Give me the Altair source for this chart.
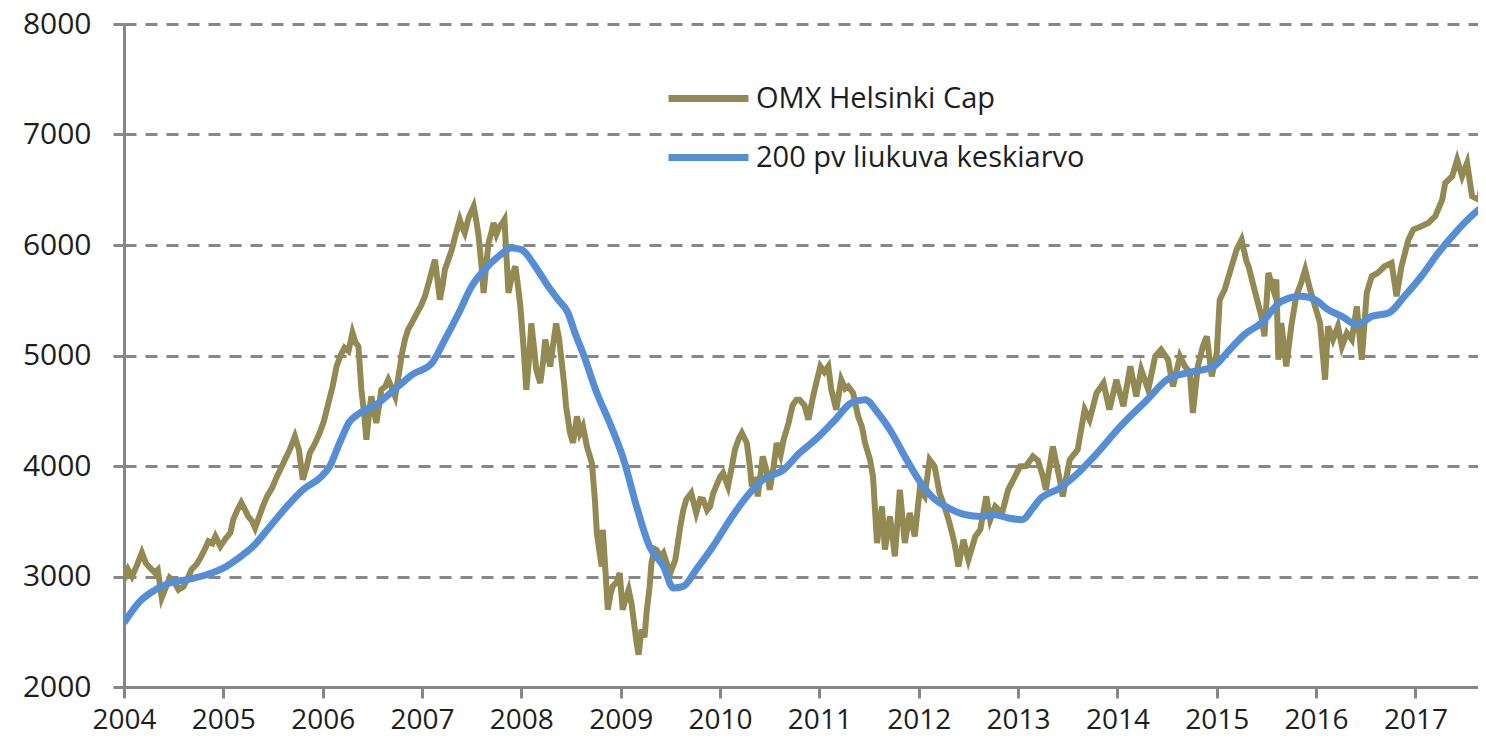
import altair as alt
import pandas as pd

SERIES = ["OMX Helsinki Cap", "200 pv liukuva keskiarvo"]
COLORS = ["#938953", "#558ED5"]

omx_t = [2004.00, 2004.04, 2004.08, 2004.13, 2004.18, 2004.22, 2004.26, 2004.31, 2004.34, 2004.38,
         2004.42, 2004.46, 2004.50, 2004.55, 2004.60, 2004.64, 2004.68, 2004.73, 2004.77, 2004.81,
         2004.85, 2004.89, 2004.92, 2004.97, 2005.02, 2005.07, 2005.10, 2005.14, 2005.18, 2005.22,
         2005.25, 2005.29, 2005.32, 2005.36, 2005.40, 2005.44, 2005.49, 2005.54, 2005.58, 2005.62,
         2005.67, 2005.72, 2005.76, 2005.80, 2005.84, 2005.87, 2005.92, 2005.97, 2006.01, 2006.05,
         2006.10, 2006.14, 2006.18, 2006.22, 2006.26, 2006.30, 2006.33, 2006.36, 2006.39, 2006.42,
         2006.44, 2006.47, 2006.49, 2006.52, 2006.54, 2006.57, 2006.59, 2006.63, 2006.66, 2006.70,
         2006.73, 2006.77, 2006.80, 2006.83, 2006.86, 2006.90, 2006.95, 2006.99, 2007.03, 2007.08,
         2007.13, 2007.16, 2007.18, 2007.21, 2007.23, 2007.27, 2007.30, 2007.34, 2007.38, 2007.41,
         2007.43, 2007.47, 2007.52, 2007.55, 2007.57, 2007.60, 2007.62, 2007.65, 2007.67, 2007.70,
         2007.72, 2007.75, 2007.78, 2007.81, 2007.83, 2007.85, 2007.87, 2007.90, 2007.94, 2007.97,
         2007.99, 2008.02, 2008.05, 2008.08, 2008.10, 2008.13, 2008.15, 2008.19, 2008.22, 2008.24,
         2008.27, 2008.29, 2008.32, 2008.35, 2008.38, 2008.40, 2008.43, 2008.45, 2008.49, 2008.52,
         2008.56, 2008.59, 2008.62, 2008.66, 2008.71, 2008.74, 2008.76, 2008.79, 2008.81, 2008.82,
         2008.85, 2008.87, 2008.90, 2008.92, 2008.96, 2008.99, 2009.02, 2009.05, 2009.08, 2009.11,
         2009.13, 2009.16, 2009.18, 2009.21, 2009.24, 2009.26, 2009.29, 2009.31, 2009.34, 2009.36,
         2009.40, 2009.43, 2009.47, 2009.50, 2009.55, 2009.60, 2009.63, 2009.66, 2009.71, 2009.76,
         2009.80, 2009.83, 2009.87, 2009.90, 2009.93, 2009.96, 2010.00, 2010.03, 2010.08, 2010.12,
         2010.15, 2010.19, 2010.22, 2010.27, 2010.30, 2010.32, 2010.35, 2010.38, 2010.43, 2010.47,
         2010.50, 2010.54, 2010.57, 2010.61, 2010.64, 2010.69, 2010.73, 2010.77, 2010.80, 2010.85,
         2010.89, 2010.93, 2010.96, 2011.01, 2011.05, 2011.09, 2011.12, 2011.17, 2011.22, 2011.26,
         2011.29, 2011.34, 2011.39, 2011.43, 2011.46, 2011.51, 2011.54, 2011.58, 2011.63, 2011.66,
         2011.71, 2011.76, 2011.81, 2011.86, 2011.91, 2011.96, 2012.01, 2012.06, 2012.11, 2012.16,
         2012.21, 2012.26, 2012.31, 2012.36, 2012.40, 2012.45, 2012.50, 2012.57, 2012.62, 2012.68,
         2012.72, 2012.77, 2012.84, 2012.90, 2012.97, 2013.02, 2013.08, 2013.15, 2013.20, 2013.25,
         2013.28, 2013.35, 2013.42, 2013.45, 2013.52, 2013.60, 2013.67, 2013.72, 2013.79, 2013.86,
         2013.92, 2013.99, 2014.06, 2014.13, 2014.19, 2014.24, 2014.31, 2014.38, 2014.44, 2014.51,
         2014.56, 2014.63, 2014.68, 2014.73, 2014.76, 2014.81, 2014.86, 2014.90, 2014.95, 2015.00,
         2015.03, 2015.08, 2015.13, 2015.20, 2015.25, 2015.30, 2015.32, 2015.38, 2015.45, 2015.48,
         2015.52, 2015.57, 2015.60, 2015.62, 2015.65, 2015.70, 2015.75, 2015.80, 2015.85, 2015.89,
         2015.94, 2015.99, 2016.04, 2016.09, 2016.12, 2016.17, 2016.22, 2016.26, 2016.31, 2016.36,
         2016.41, 2016.46, 2016.51, 2016.56, 2016.62, 2016.69, 2016.76, 2016.81, 2016.86, 2016.93,
         2016.98, 2017.06, 2017.13, 2017.20, 2017.27, 2017.30, 2017.37, 2017.42, 2017.47, 2017.52,
         2017.57, 2017.64, 2017.69, 2017.71]
omx_v = [2971, 3063, 3000, 3100, 3216, 3120, 3080, 3035, 3060, 2808,
         2900, 2990, 2960, 2880, 2910, 2980, 3063, 3110, 3170, 3240,
         3318, 3300, 3363, 3273, 3340, 3395, 3515, 3600, 3668, 3600,
         3545, 3500, 3440, 3540, 3640, 3725, 3800, 3906, 3980, 4057,
         4150, 4268, 4150, 3876, 4000, 4118, 4200, 4300, 4400, 4540,
         4720, 4902, 5000, 5070, 5040, 5206, 5120, 5082, 4690, 4450,
         4238, 4500, 4630, 4480, 4390, 4560, 4690, 4720, 4781, 4700,
         4630, 4850, 5024, 5150, 5235, 5300, 5385, 5450, 5536, 5700,
         5867, 5650, 5505, 5650, 5777, 5880, 5958, 6100, 6230, 6150,
         6110, 6250, 6350, 6200, 6078, 5800, 5566, 5850, 6020, 6120,
         6200, 6100, 6168, 6200, 6230, 5900, 5566, 5700, 5807, 5600,
         5445, 5100, 4690, 5000, 5290, 5050, 4871, 4750, 4950, 5145,
         5000, 4900, 5100, 5290, 5150, 4990, 4750, 4540, 4300, 4210,
         4449, 4300, 4358, 4177, 4027, 3700, 3394, 3200, 3091, 3423,
         3000, 2700, 2850, 2911, 2950, 3032, 2700, 2800, 2880, 2750,
         2609, 2400, 2292, 2519, 2450, 2670, 2900, 3122, 3250, 3242,
         3180, 3213, 3100, 3032, 3152, 3453, 3600, 3695, 3755, 3575,
         3700, 3695, 3600, 3634, 3750, 3815, 3900, 3936, 3815, 4000,
         4148, 4250, 4299, 4208, 4000, 3815, 3900, 3725, 4087, 3950,
         3785, 4000, 4208, 4100, 4238, 4389, 4550, 4600, 4600, 4550,
         4419, 4600, 4720, 4902, 4850, 4902, 4690, 4509, 4781, 4700,
         4720, 4660, 4449, 4350, 4208, 4057, 3906, 3303, 3634, 3243,
         3544, 3182, 3785, 3303, 3575, 3363, 3785, 3725, 4057, 3996,
         3755, 3634, 3484, 3303, 3091, 3333, 3152, 3363, 3424, 3725,
         3514, 3634, 3575, 3785, 3906, 3996, 4000, 4087, 4050, 3906,
         3785, 4177, 3876, 3725, 4057, 4148, 4510, 4419, 4660, 4751,
         4510, 4781, 4540, 4902, 4630, 4871, 4690, 4992, 5053, 4962,
         4720, 4992, 4902, 4842, 4480, 4902, 5082, 5173, 4811, 5022,
         5505, 5596, 5747, 5958, 6049, 5850, 5807, 5596, 5354, 5173,
         5747, 5596, 5687, 4962, 5294, 4902, 5264, 5536, 5657, 5777,
         5596, 5445, 5294, 4781, 5264, 5143, 5264, 5082, 5203, 5143,
         5445, 4962, 5566, 5717, 5747, 5807, 5838, 5536, 5807, 6049,
         6140, 6170, 6200, 6260, 6411, 6561, 6622, 6772, 6622, 6742,
         6441, 6411, 6652, 6700]

ma_t = [2004.00, 2004.16, 2004.29, 2004.46, 2004.63, 2004.83, 2005.03, 2005.13, 2005.30, 2005.47,
        2005.64, 2005.80, 2005.97, 2006.07, 2006.17, 2006.27, 2006.36, 2006.56, 2006.76, 2006.90,
        2007.10, 2007.23, 2007.37, 2007.50, 2007.63, 2007.77, 2007.90, 2008.00, 2008.14, 2008.27,
        2008.37, 2008.47, 2008.54, 2008.62, 2008.76, 2008.89, 2009.03, 2009.16, 2009.29, 2009.43,
        2009.53, 2009.63, 2009.76, 2009.93, 2010.10, 2010.27, 2010.43, 2010.64, 2010.80, 2010.96,
        2011.16, 2011.32, 2011.46, 2011.59, 2011.73, 2011.86, 2012.00, 2012.13, 2012.30, 2012.47,
        2012.63, 2012.77, 2012.90, 2013.04, 2013.15, 2013.22, 2013.42, 2013.62, 2013.76, 2014.03,
        2014.30, 2014.50, 2014.70, 2014.97, 2015.10, 2015.28, 2015.45, 2015.65, 2015.85, 2015.99,
        2016.12, 2016.26, 2016.41, 2016.56, 2016.73, 2016.89, 2017.06, 2017.23, 2017.43, 2017.64,
        2017.71]
ma_v = [2580, 2775, 2866, 2941, 2971, 3016, 3091, 3152, 3273, 3453,
        3634, 3785, 3891, 3996, 4208, 4400, 4470, 4570, 4720, 4826,
        4932, 5143, 5385, 5626, 5777, 5897, 5973, 5958, 5807, 5626,
        5505, 5385, 5203, 5022, 4660, 4389, 4057, 3634, 3273, 3091,
        2896, 2911, 3062, 3273, 3514, 3725, 3876, 3966, 4117, 4238,
        4419, 4570, 4600, 4480, 4299, 4087, 3876, 3725, 3620, 3559,
        3544, 3559, 3529, 3514, 3620, 3700, 3800, 3950, 4080, 4358,
        4600, 4781, 4842, 4902, 5022, 5190, 5294, 5490, 5536, 5505,
        5415, 5354, 5279, 5354, 5385, 5536, 5717, 5928, 6140, 6321,
        6366]

year_ticks = list(range(2004, 2018))
value_ticks = [2000, 3000, 4000, 5000, 6000, 7000, 8000]

omx_df = pd.DataFrame({"t": omx_t, "v": omx_v, "s": SERIES[0]})
ma_df = pd.DataFrame({"t": ma_t, "v": ma_v, "s": SERIES[1]})

FONT = "Open Sans"
AXIS_GRAY = "#878787"
TEXT = "#1e1e1e"

x_enc = alt.X("t:Q", scale=alt.Scale(domain=[2004, 2017.63], nice=False, zero=False),
              axis=alt.Axis(values=year_ticks, format="d", title=None, grid=False,
                            domainColor=AXIS_GRAY, domainWidth=3, tickColor=AXIS_GRAY,
                            tickWidth=3, tickSize=11, labelFont=FONT, labelFontSize=28,
                            labelColor=TEXT, labelPadding=8, labelFlush=False))
y_enc = alt.Y("v:Q", scale=alt.Scale(domain=[2000, 8000], nice=False, zero=False),
              axis=alt.Axis(values=value_ticks, format="d", title=None, grid=True,
                            gridColor=AXIS_GRAY, gridWidth=3, gridDash=[12, 9],
                            domainColor=AXIS_GRAY, domainWidth=3,
                            tickColor=AXIS_GRAY, tickWidth=3, tickSize=11, labelFont=FONT,
                            labelFontSize=30, labelColor=TEXT, labelPadding=22))
color_enc = alt.Color("s:N", scale=alt.Scale(domain=SERIES, range=COLORS),
                      legend=alt.Legend(orient="none", legendX=541, legendY=31, title=None,
                                        symbolType="stroke", symbolSize=6400,
                                        symbolStrokeWidth=7, labelFont=FONT, labelFontSize=29,
                                        labelColor=TEXT, labelOffset=4, rowPadding=-21,
                                        labelLimit=0, padding=0))

omx_line = alt.Chart(omx_df).mark_line(strokeWidth=6, clip=True).encode(
    x=x_enc, y=y_enc, color=color_enc)
ma_line = alt.Chart(ma_df).mark_line(strokeWidth=7, interpolate="monotone", clip=True).encode(
    x=x_enc, y=y_enc, color=color_enc)

chart = alt.layer(omx_line, ma_line).properties(
    width=1354, height=663,
    autosize=alt.AutoSizeParams(type="none"),
    padding={"left": 116, "top": 16, "right": 0, "bottom": 49},
).configure_view(stroke=None)

chart.save("out.html", embed_options={"renderer": "svg", "actions": False})
